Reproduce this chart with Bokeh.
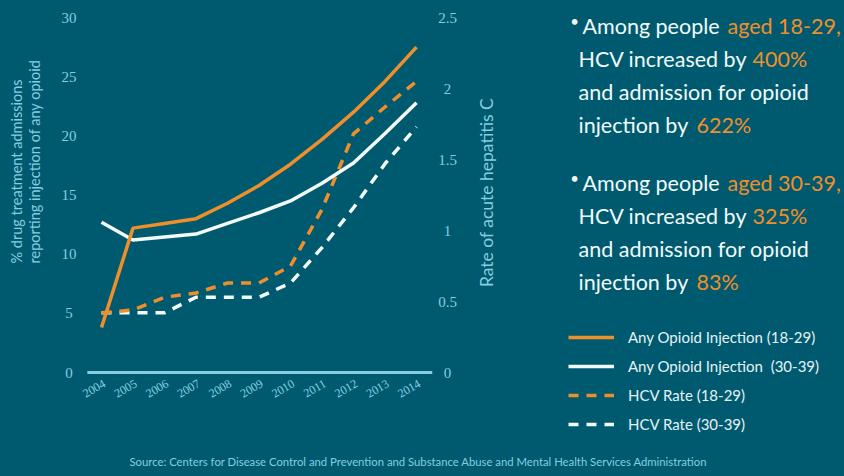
import math
from bokeh.plotting import figure
from bokeh.models import Range1d, Label, Legend, LegendItem
from bokeh.embed import file_html
from bokeh.resources import INLINE

# ---------------- data ----------------
years = [2004, 2005, 2006, 2007, 2008, 2009, 2010, 2011, 2012, 2013, 2014]
year_labels = [str(y) for y in years]
opioid_18_29 = [3.8, 12.2, 12.6, 13.0, 14.3, 15.8, 17.6, 19.7, 22.0, 24.6, 27.5]
opioid_30_39 = [12.7, 11.2, 11.45, 11.7, 12.6, 13.5, 14.5, 16.0, 17.7, 20.2, 22.8]
hcv_18_29 = [0.42, 0.44, 0.53, 0.56, 0.63, 0.63, 0.75, 1.15, 1.68, 1.87, 2.05]
hcv_30_39 = [0.42, 0.42, 0.42, 0.53, 0.53, 0.53, 0.63, 0.88, 1.16, 1.47, 1.73]
left_ticks = [0, 5, 10, 15, 20, 25, 30]
left_tick_labels = ["0", "5", "10", "15", "20", "25", "30"]
right_ticks = [0, 0.5, 1, 1.5, 2, 2.5]
right_tick_labels = ["0", "0.5", "1", "1.5", "2", "2.5"]
series_names = ["Any Opioid Injection (18-29)", "Any Opioid Injection  (30-39)",
                "HCV Rate (18-29)", "HCV Rate (30-39)"]

BG = "#005a6f"
ORANGE = "#ef8f2b"
WHITE = "#f2fafa"
LBLUE = "#86cde0"
FONT = "Lato"

W, H = 844, 476
X2004, PXY = 101, 31.5           # page x of 2004, px per year
Y0, Y30 = 372, 17                # page y of 0 and 30 on the left scale
PPU = (Y0 - Y30) / 30.0

xr = Range1d(2004 - X2004 / PXY, 2004 + (W - X2004) / PXY)
yr = Range1d(-(H - Y0) / PPU, 30 + Y30 / PPU)

p = figure(width=W, height=H, output_backend="svg", toolbar_location=None,
           x_range=xr, y_range=yr, x_axis_type=None, y_axis_type=None,
           min_border=0, min_border_left=0, min_border_right=0,
           min_border_top=0, min_border_bottom=0)
p.background_fill_color = BG
p.border_fill_color = BG
p.outline_line_color = None
p.grid.visible = False
p.extra_y_ranges = {"hcv": Range1d(yr.start / 12.0, yr.end / 12.0)}

# ---- axes (drawn through the plot's scales) ----
p.line([years[0] - 0.45, years[-1] + 0.5], [0, 0], line_color=LBLUE, line_width=3)
p.text(x=[xr.start] * len(left_ticks), y=left_ticks, text=left_tick_labels,
       x_offset=68.5, text_align="center", text_baseline="middle",
       text_color=LBLUE, text_font=FONT, text_font_size="15px")
p.text(x=[xr.start] * len(right_ticks), y=right_ticks, text=right_tick_labels,
       y_range_name="hcv", x_offset=447, text_align="center", text_baseline="middle",
       text_color=LBLUE, text_font=FONT, text_font_size="15px")
p.text(x=years, y=[0] * len(years), text=year_labels, angle=30, angle_units="deg",
       x_offset=3, y_offset=10, text_align="right", text_baseline="middle",
       text_color=LBLUE, text_font=FONT, text_font_size="12px")

# ---- lines ----
r4 = p.line(years, hcv_30_39, y_range_name="hcv", line_color=WHITE, line_width=3.5,
            line_dash="10 8")
r3 = p.line(years, hcv_18_29, y_range_name="hcv", line_color=ORANGE, line_width=3.5,
            line_dash="10 8")
r2 = p.line(years, opioid_30_39, line_color=WHITE, line_width=3.5)
r1 = p.line(years, opioid_18_29, line_color=ORANGE, line_width=3.5)

legend = Legend(items=[LegendItem(label=n, renderers=[r]) for n, r in
                       zip(series_names, [r1, r2, r3, r4])],
                location=(568, H - 434), padding=0, margin=0, spacing=9,
                glyph_width=46, glyph_height=20, label_height=20, label_standoff=14,
                border_line_color=None, background_fill_alpha=0,
                label_text_font=FONT, label_text_font_size="15px",
                label_text_color="#e4f2f5")
p.add_layout(legend)


def lab(px, py, text, color=WHITE, size="21.5px", align="left", baseline="alphabetic",
        angle=0):
    p.add_layout(Label(x=px, y=H - py, x_units="screen", y_units="screen",
                       text=text, text_color=color, text_font=FONT,
                       text_font_size=size, text_align=align, text_baseline=baseline,
                       angle=angle, angle_units="deg"))


# axis titles
lab(16, 263, "% drug treatment admissions", LBLUE, "14.5px", "left", "middle", 90)
lab(34, 263, "reporting injection of any opioid", LBLUE, "14.5px", "left", "middle", 90)
lab(486, 192, "Rate of acute hepatitis C", LBLUE, "17.5px", "center", "middle", 90)

# annotation text
for base, age, hcv, adm in [(25, "aged 18-29,", "400%", "622%"),
                            (182, "aged 30-39,", "325%", "83%")]:
    lab(574, base - 5, "\u2022", size="15px", align="center")
    lab(582, base, "Among people")
    lab(727, base, age, ORANGE)
    lab(578, base + 33, "HCV increased by")
    lab(752, base + 33, hcv, ORANGE)
    lab(578, base + 66, "and admission for opioid")
    lab(578, base + 99, "injection by")
    lab(696, base + 99, adm, ORANGE)

lab(418, 461, "Source: Centers for Disease Control and Prevention and Substance Abuse and "
    "Mental Health Services Administration", LBLUE, "11.3px", "center", "middle")

html = file_html(p, INLINE)
html = html.replace("<head>", "<head><style>html,body{background:%s;}</style>" % BG, 1)
open("out.html", "w").write(html)
